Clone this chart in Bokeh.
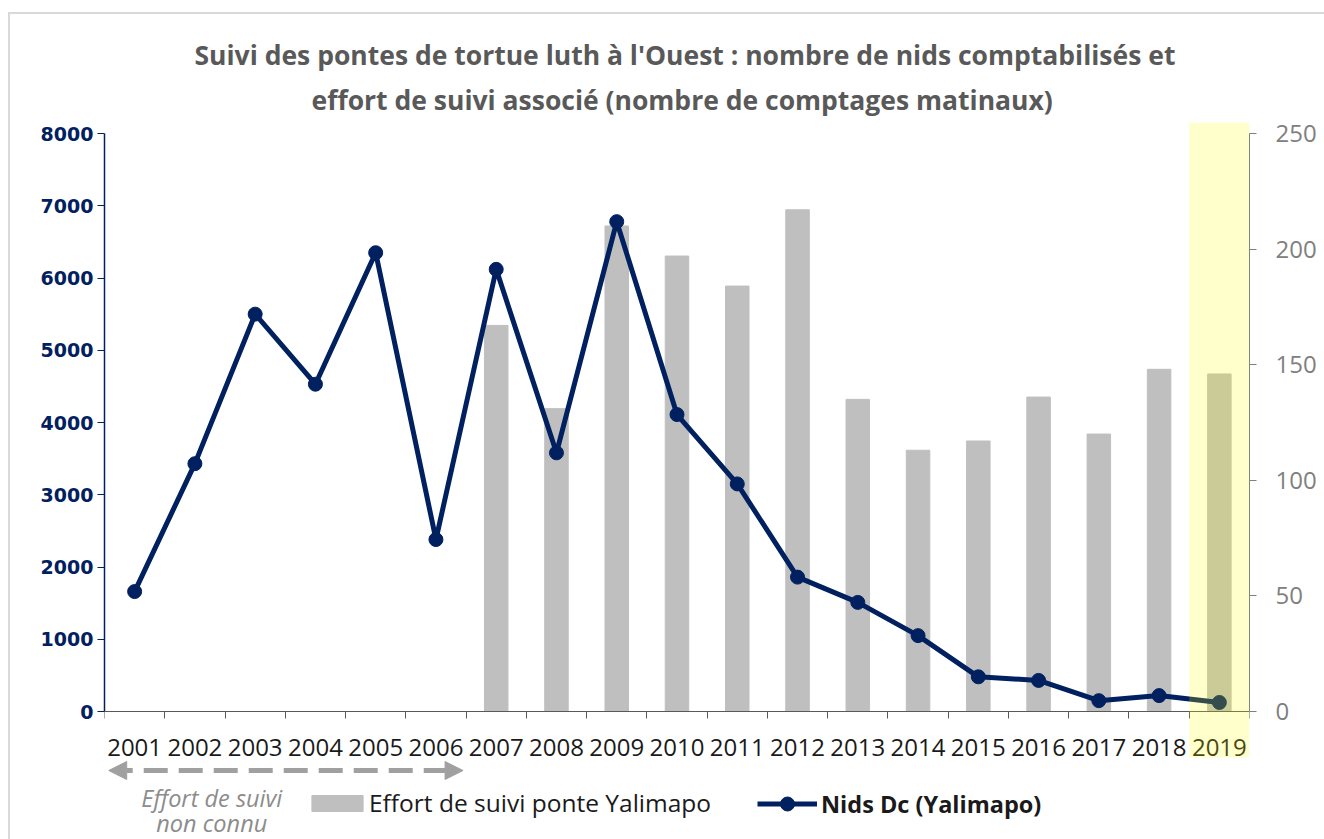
from bokeh.plotting import figure
from bokeh.models import (Range1d, LinearAxis, FixedTicker, BoxAnnotation, Legend, LegendItem,
                          Label, Arrow, NormalHead, Title)
from bokeh.embed import file_html
from bokeh.resources import INLINE

years = ["2001", "2002", "2003", "2004", "2005", "2006", "2007", "2008", "2009", "2010",
         "2011", "2012", "2013", "2014", "2015", "2016", "2017", "2018", "2019"]
nids = [1660, 3430, 5500, 4530, 6350, 2380, 6120, 3580, 6780, 4110,
        3150, 1860, 1510, 1050, 480, 430, 150, 220, 125]
effort_years = ["2007", "2008", "2009", "2010", "2011", "2012", "2013",
                "2014", "2015", "2016", "2017", "2018", "2019"]
effort = [167, 131, 210, 197, 184, 217, 135, 113, 117, 136, 120, 148, 146]
left_ticks = [0, 1000, 2000, 3000, 4000, 5000, 6000, 7000, 8000]
right_ticks = [0, 50, 100, 150, 200, 250]
highlight_year = "2019"

title1 = "Suivi des pontes de tortue luth à l'Ouest : nombre de nids comptabilisés et"
title2 = "effort de suivi associé (nombre de comptages matinaux)"
note_lines = ["Effort de suivi", "non connu"]

NAVY = "#002060"
GREY_BAR = "#BFBFBF"
CAL = "Open Sans"

xs = [i + 0.5 for i in range(len(years))]
xe = [years.index(y) + 0.5 for y in effort_years]

# pixel geometry: 72.25 px per 1000 nests
PX = 72.25 / 1000.0
ytop = 8000 + 11 / PX
ybot = -(839 - 711) / PX
rscale = 250 / 8000

p = figure(width=1324, height=839, output_backend="svg", toolbar_location=None,
           x_range=Range1d(0, len(years)), y_range=Range1d(ybot, ytop),
           frame_width=1145, frame_height=717,
           min_border_left=104, min_border_right=75, min_border_bottom=0, min_border_top=122)
p.extra_y_ranges = {"right": Range1d(ybot * rscale, ytop * rscale)}
p.xgrid.visible = False
p.ygrid.visible = False
p.outline_line_color = None
p.background_fill_color = "white"
p.border_fill_color = None

# titles
t2 = Title(text=title2, align="left", offset=207, text_font=CAL, text_font_style="bold",
           text_font_size="26.5px", text_color="#595959", standoff=10)
t1 = Title(text=title1, align="left", offset=90, text_font=CAL, text_font_style="bold",
           text_font_size="26.5px", text_color="#595959", standoff=4)
p.add_layout(t2, "above")
p.add_layout(t1, "above")

# bars
bars = p.vbar(x=xe, top=effort, width=0.39, color=GREY_BAR, y_range_name="right")
# line
ln = p.line(xs, nids, line_width=5, color=NAVY)
pts = p.scatter(xs, nids, size=14, color=NAVY)

# left axis
ya = p.yaxis[0]
ya.ticker = FixedTicker(ticks=left_ticks)
ya.bounds = (0, 8000)
ya.axis_line_color = NAVY
ya.axis_line_width = 1.5
ya.major_tick_line_color = NAVY
ya.major_tick_out = 7
ya.major_tick_in = 0
ya.minor_tick_line_color = None
ya.major_label_text_font = "DejaVu Sans"
ya.major_label_text_font_style = "bold"
ya.major_label_text_font_size = "19px"
ya.major_label_text_color = NAVY
ya.major_label_standoff = 4

# right axis
ra = LinearAxis(y_range_name="right", ticker=FixedTicker(ticks=right_ticks), bounds=(0, 250))
ra.axis_line_color = "#7F7F7F"
ra.major_tick_line_color = "#7F7F7F"
ra.major_tick_out = 7
ra.major_tick_in = 0
ra.minor_tick_line_color = None
ra.major_label_text_font = CAL
ra.major_label_text_font_size = "24px"
ra.major_label_text_color = "#808080"
ra.major_label_standoff = 19
p.add_layout(ra, "right")

# bottom axis, drawn at y = 0
xa = p.xaxis[0]
xa.fixed_location = 0
xa.ticker = FixedTicker(ticks=xs, minor_ticks=list(range(len(years) + 1)))
xa.major_label_overrides = {x: y for x, y in zip(xs, years)}
xa.major_tick_line_color = None
xa.major_tick_out = 0
xa.major_tick_in = 0
xa.minor_tick_out = 7
xa.minor_tick_in = 0
xa.minor_tick_line_color = "#595959"
xa.axis_line_color = "#595959"
xa.major_label_text_font = CAL
xa.major_label_text_font_size = "24px"
xa.major_label_text_color = "#1a1a1a"
xa.major_label_standoff = 20

# highlight
hi = years.index(highlight_year)
box = BoxAnnotation(left=hi, right=hi + 1, bottom=-(757 - 711) / PX, fill_color="#FFFF00",
                    fill_alpha=0.2, line_color=None, level="overlay")
p.add_layout(box)

# dashed arrow + italic note
ya_arrow = -(770 - 711) / PX
arr = Arrow(x_start=0.07, x_end=5.95, y_start=ya_arrow, y_end=ya_arrow,
            line_color="#A0A0A0", line_width=5, line_dash="24 11",
            start=NormalHead(size=18, fill_color="#A0A0A0", line_color="#A0A0A0"),
            end=NormalHead(size=18, fill_color="#A0A0A0", line_color="#A0A0A0"))
p.add_layout(arr)
for txt, yy in zip(note_lines, [797, 822]):
    p.add_layout(Label(x=1.78, y=-(yy - 711) / PX, text=txt, text_align="center",
                       text_baseline="middle", text_font=CAL, text_font_style="italic",
                       text_font_size="23.5px", text_color="#8C8C8C"))

# legends
leg1 = Legend(items=[LegendItem(label="Effort de suivi ponte Yalimapo", renderers=[bars])],
              location=(201, 20), orientation="horizontal", padding=0, margin=0,
              glyph_width=64, glyph_height=20, label_standoff=0,
              label_text_font=CAL, label_text_font_size="24.5px", label_text_color="#1a1a1a",
              background_fill_alpha=0, border_line_color=None)
leg2 = Legend(items=[LegendItem(label="Nids Dc (Yalimapo)", renderers=[ln, pts])],
              location=(653, 18), orientation="horizontal", padding=0, margin=0,
              glyph_width=60, glyph_height=35, label_standoff=4,
              label_text_font=CAL, label_text_font_style="bold", label_text_font_size="23.5px",
              label_text_color="#1a1a1a",
              background_fill_alpha=0, border_line_color=None)
p.add_layout(leg1)
p.add_layout(leg2)

p.styles = {"box-shadow": "inset 8px 12px 0 0 white, inset 10px 14px 0 0 #D9D9D9"}

open("out.html", "w").write(file_html(p, INLINE))
